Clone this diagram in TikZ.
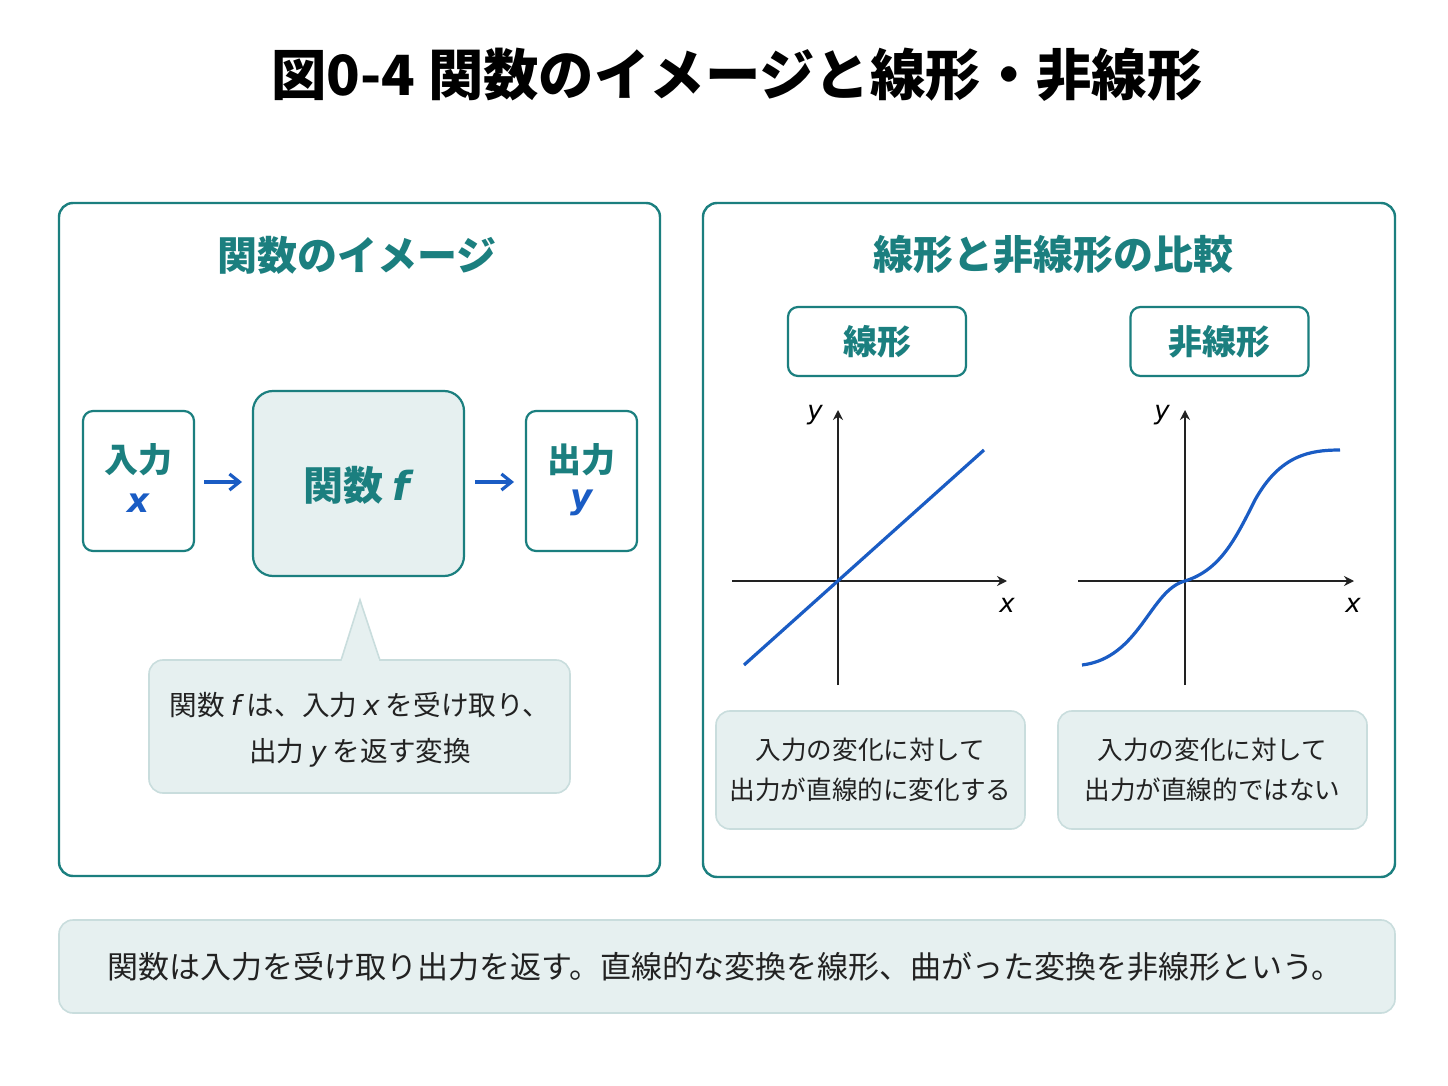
\documentclass[tikz,border=0pt]{standalone}
\usepackage{fontspec}
\setmainfont{Noto Sans CJK JP}
\newfontfamily\latf{DejaVu Sans}
\usetikzlibrary{arrows.meta}
\definecolor{teal1}{HTML}{1B7F7F}
\definecolor{lightf}{HTML}{E6F0F0}
\definecolor{lightb}{HTML}{C9DDDD}
\definecolor{blue1}{HTML}{1A5CC4}
\definecolor{txt}{HTML}{222222}
\begin{document}
\begin{tikzpicture}[x=0.5pt,y=-0.5pt,
 panel/.style={draw=teal1,line width=1.2pt,rounded corners=7pt},
 box/.style={draw=teal1,line width=1.1pt,rounded corners=5pt},
 soft/.style={draw=lightb,fill=lightf,line width=0.8pt,rounded corners=7pt},
 head/.style={text=teal1,font=\fontsize{20}{22}\selectfont\bfseries},
 arr/.style={-{Straight Barb[length=5pt,width=8pt]},line width=1.6pt},
 axis/.style={-{Stealth[length=5pt,width=5pt]},line width=1pt,draw=txt},
 curve/.style={draw=blue1,line width=1.6pt}]
\useasboundingbox[fill=white] (0,0) rectangle (1448,1086);
\node[font=\fontsize{27.7}{30}\selectfont\bfseries,text=black] (title) at (737,75) {図0-4 関数のイメージと線形・非線形};
% left panel
\draw[panel] (59,203) rectangle (660,876);
\node[head] (lh) at (357,255) {関数のイメージ};
\node[box,minimum width=55.5pt,minimum height=70pt] (in) at (138.5,481) {};
\node[text=teal1,font=\fontsize{17}{18}\selectfont\bfseries] (inl) at (138.5,460) {入力};
\node[text=blue1,font=\fontsize{17}{18}\selectfont\bfseries\itshape\latf] (inx) at (138.5,503) {x};
\node[box,rounded corners=10pt,fill=lightf,minimum width=105.5pt,minimum height=92.5pt] (fn) at (358.5,483.5) {};
\node[text=teal1,font=\fontsize{20}{22}\selectfont\bfseries] (fnl) at (357,485) {関数 {\latf\itshape f}};
\node[box,minimum width=55.5pt,minimum height=70pt] (out) at (581.5,481) {};
\node[text=teal1,font=\fontsize{17}{18}\selectfont\bfseries] (outl) at (581.5,460) {出力};
\node[text=blue1,font=\fontsize{17}{18}\selectfont\bfseries\itshape\latf] (outy) at (581.5,503) {y};
\coordinate (a1s) at (204,482); \coordinate (a1e) at (242,482);
\coordinate (a2s) at (475,482); \coordinate (a2e) at (514,482);
\draw[arr,draw=blue1] (a1s) -- (a1e);
\draw[arr,draw=blue1] (a2s) -- (a2e);
\draw[soft] (149,660) rectangle (570,793);
\filldraw[fill=lightf,draw=lightb,line width=0.8pt] (341,660.5) -- (360,600) -- (380,660.5);
\fill[lightf] (342,659) rectangle (379,663);
\node[text=txt,font=\fontsize{13.8}{23}\selectfont,align=center] (cap) at (360,730) {関数 {\latf\itshape f} は、入力 {\latf\itshape x} を受け取り、\\出力 {\latf\itshape y} を返す変換};
% right panel
\draw[panel] (703,203) rectangle (1395,877);
\node[head] (rh) at (1053,255) {線形と非線形の比較};
\node[box,minimum width=89pt,minimum height=34.5pt,text=teal1,font=\fontsize{17}{18}\selectfont\bfseries] (lin) at (877,341.5) {線形};
\node[box,minimum width=89pt,minimum height=34.5pt,text=teal1,font=\fontsize{17}{18}\selectfont\bfseries] (nl) at (1219.5,341.5) {非線形};
% linear graph
\coordinate (lx0) at (732,581); \coordinate (lx1) at (1007,581);
\coordinate (ly0) at (838,685); \coordinate (ly1) at (838,410);
\draw[axis] (lx0) -- (lx1); \draw[axis] (ly0) -- (ly1);
\node[font=\fontsize{13}{14}\selectfont\latf\itshape] (ly) at (815,415) {y};
\node[font=\fontsize{13}{14}\selectfont\latf\itshape] (lx) at (1007,605) {x};
\coordinate (la) at (744,665); \coordinate (lb) at (984,450);
\draw[curve] (la) -- (lb);
% nonlinear graph
\coordinate (nx0) at (1078,581); \coordinate (nx1) at (1354,581);
\coordinate (ny0) at (1185,685); \coordinate (ny1) at (1185,410);
\draw[axis] (nx0) -- (nx1); \draw[axis] (ny0) -- (ny1);
\node[font=\fontsize{13}{14}\selectfont\latf\itshape] (ny) at (1162,415) {y};
\node[font=\fontsize{13}{14}\selectfont\latf\itshape] (nx) at (1353,605) {x};
\coordinate (na) at (1082,665); \coordinate (nm) at (1185,581); \coordinate (nb) at (1340,450);
\draw[curve] (na) .. controls (1140,658) and (1150,590) .. (nm) .. controls (1220,570) and (1235,540) .. (1255,500) .. controls (1280,455) and (1310,450) .. (nb);
% description boxes
\draw[soft] (716,711) rectangle (1025,829);
\node[text=txt,font=\fontsize{12.8}{20}\selectfont,align=center] (d1) at (870.5,770) {入力の変化に対して\\出力が直線的に変化する};
\draw[soft] (1058,711) rectangle (1367,829);
\node[text=txt,font=\fontsize{12.8}{20}\selectfont,align=center] (d2) at (1212.5,770) {入力の変化に対して\\出力が直線的ではない};
% bottom
\draw[soft] (59,920) rectangle (1395,1013);
\node[text=txt,font=\fontsize{15.5}{17}\selectfont] (sum) at (725,967) {関数は入力を受け取り出力を返す。直線的な変換を線形、曲がった変換を非線形という。};
\end{tikzpicture}
\end{document}
